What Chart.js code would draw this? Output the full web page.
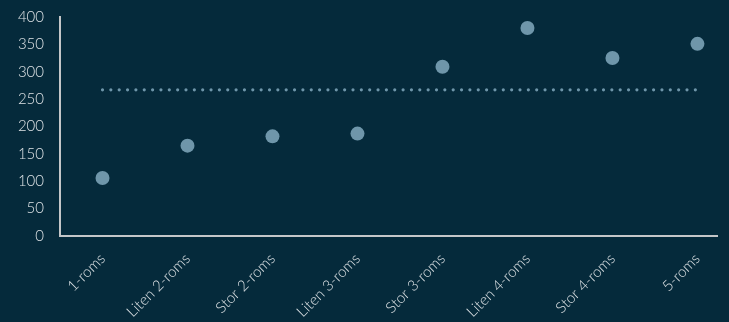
<!DOCTYPE html>
<html lang="no">
<head>
  <meta charset="UTF-8" />
  <title>Boligtyper</title>
  <script src="https://cdn.jsdelivr.net/npm/chart.js@4"></script>
  <style>
    html, body { margin: 0; padding: 0; background-color: #052a3b; }
    .wrap { width: 729px; height: 322px; }
  </style>
</head>
<body>

<div class="wrap">
  <canvas id="roomChart" width="729" height="322"></canvas>
</div>

<script>
  const categories = ['1-roms', 'Liten 2-roms', 'Stor 2-roms', 'Liten 3-roms', 'Stor 3-roms', 'Liten 4-roms', 'Stor 4-roms', '5-roms'];
  const values = [106, 165, 182, 187, 309, 380, 325, 351];
  const averageLine = 267;
  const yTicks = [0, 50, 100, 150, 200, 250, 300, 350, 400];

  const textColor = '#dde2e5';
  const axisColor = '#c4c6c8';
  const dotColor = '#6f96aa';

  new Chart(document.getElementById('roomChart'), {
    type: 'scatter',
    data: {
      datasets: [
        {
          label: 'Verdi',
          data: values.map((v, i) => ({ x: i, y: v })),
          backgroundColor: dotColor,
          borderWidth: 0,
          pointRadius: 7,
          pointHoverRadius: 7
        },
        {
          type: 'line',
          label: 'Snitt',
          data: [{ x: 0, y: averageLine }, { x: categories.length - 1, y: averageLine }],
          borderColor: dotColor,
          borderWidth: 3.2,
          borderCapStyle: 'round',
          borderDash: [0, 8.35],
          pointRadius: 0,
          fill: false
        }
      ]
    },
    options: {
      responsive: false,
      animation: false,
      layout: { padding: { top: 5, right: 12, left: 0, bottom: 0 } },
      plugins: {
        legend: { display: false },
        tooltip: { enabled: false }
      },
      scales: {
        x: {
          type: 'linear',
          min: -0.5,
          max: categories.length - 0.77,
          grid: { display: false },
          border: { color: axisColor, width: 2 },
          afterBuildTicks: (axis) => {
            axis.ticks = categories.map((c, i) => ({ value: i }));
          },
          afterFit: (axis) => { axis.height = 86; },
          ticks: {
            color: textColor,
            font: { family: 'Lato', size: 15, weight: 300 },
            minRotation: 45,
            maxRotation: 45,
            padding: 6,
            callback: (v) => categories[v]
          }
        },
        y: {
          min: 0,
          max: 400,
          grid: { display: false },
          border: { color: axisColor, width: 2 },
          afterBuildTicks: (axis) => {
            axis.ticks = yTicks.map(v => ({ value: v }));
          },
          afterFit: (axis) => { axis.width = 60; },
          ticks: {
            color: textColor,
            font: { family: 'Lato', size: 15, weight: 300 },
            padding: 8
          }
        }
      }
    }
  });
</script>
</body>
</html>
